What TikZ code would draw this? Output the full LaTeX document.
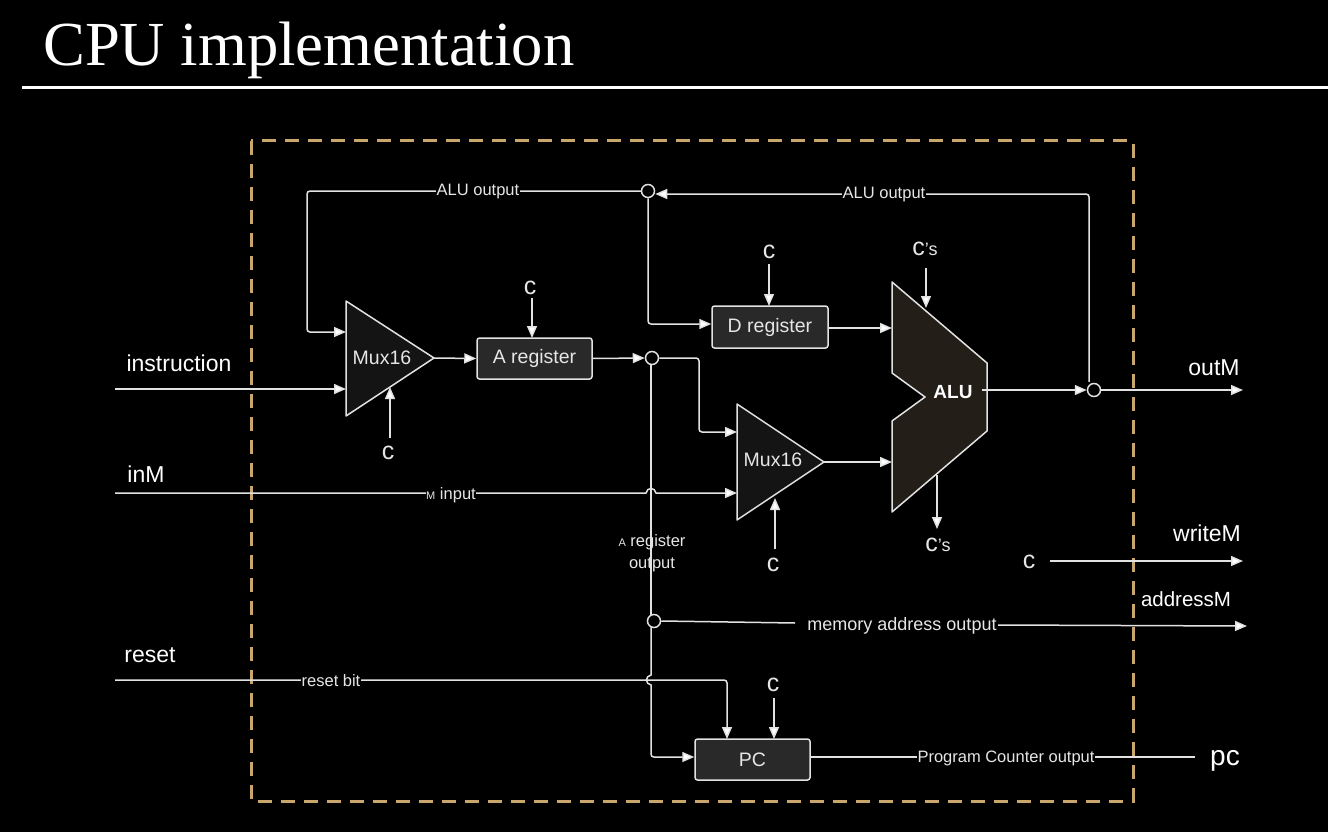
\documentclass[tikz,border=0pt]{standalone}
\usepackage{fontspec}
\setmainfont{Liberation Sans}
\newfontfamily\titlefont{Liberation Serif}
\usetikzlibrary{arrows.meta,calc}
\definecolor{wire}{HTML}{E2E2E2}
\definecolor{txt}{HTML}{E6E6E6}
\definecolor{tan}{HTML}{C9A66B}
\newcommand{\px}[1]{\fontsize{#1pt}{#1pt}\selectfont}
\tikzset{
  x=1pt,y=-1pt,
  wirestyle/.style={draw=wire,line width=1.5pt,rounded corners=3pt},
  arrowwire/.style={wirestyle,-{Triangle[length=12pt,width=10pt,fill=white]}},
  regbox/.style={draw=wire,line width=1.5pt,rounded corners=2.5pt,fill=black!84,minimum height=41pt,minimum width=115pt,inner sep=0pt,text=txt,font=\px{19.5}},
  muxshape/.style={draw=wire,line width=1.5pt,line join=round,fill=black!92},
  alushape/.style={draw=wire,line width=1.5pt,line join=round,fill={rgb,255:red,35;green,31;blue,24}},
  junction/.style={circle,draw=wire,line width=1.5pt,fill=black,minimum size=13pt,inner sep=0pt},
  inlabel/.style={fill=black,text=txt,font=\px{16.5},inner xsep=0.5pt,inner ysep=1pt},
  sidelabel/.style={text=white,font=\px{23},inner sep=0pt},
  ctrl/.style={text=txt,font=\px{25},inner sep=0pt},
  ctrls/.style={text=txt,inner sep=0pt},
  partlabel/.style={text=txt,font=\px{19.5},inner sep=0pt}
}
\begin{document}
\begin{tikzpicture}
\useasboundingbox[fill=black] (0,0) rectangle (1328,832);
% title
\node[anchor=base west,text=white,inner sep=0pt,font=\titlefont\px{62.7}] (title) at (43,65.5) {CPU implementation};
\coordinate (ruleL) at (22,88);
\coordinate (ruleR) at (1328,88);
\draw[white,line width=3pt] (ruleL) -- (ruleR);
% dashed frame
\draw[tan,line width=3pt,dash pattern=on 14pt off 9pt] (251,141) rectangle (1133,801);
% shapes
\draw[muxshape] (346,301) -- (434,358) -- (346,416) -- cycle;
\node[partlabel] (mux1) at (382,358) {Mux16};
\draw[muxshape] (737,404) -- (824,462) -- (737,520) -- cycle;
\node[partlabel] (mux2) at (773,460) {Mux16};
\draw[alushape] (892,282) -- (987,363) -- (987,431) -- (892,512) -- (892,421) -- (925,397) -- (892,373) -- cycle;
\node[text=white,font=\bfseries\px{19},inner sep=0pt] (alu) at (953,392) {ALU};
\node[regbox] (areg) at (534.5,358.5) {A register};
\node[regbox,minimum width=116pt,minimum height=42pt] (dreg) at (770,327) {D register};
\node[regbox] (pcbox) at (752.5,759.5) {PC};
% junctions
\node[junction] (j1) at (648,191) {};
\node[junction] (j2) at (652,358) {};
\node[junction] (j3) at (1094,390) {};
\node[junction] (j4) at (654,621) {};
% coordinates on shapes
\coordinate (m1a) at (346,332);
\coordinate (m1b) at (346,389);
\coordinate (m1c) at (390,387);
\coordinate (m1o) at (434,358);
\coordinate (m2a) at (737,432);
\coordinate (m2b) at (737,493);
\coordinate (m2c) at (775,498);
\coordinate (m2o) at (824,462);
\coordinate (alua) at (892,328);
\coordinate (alub) at (892,462);
\coordinate (aluc) at (926,308);
\coordinate (alud) at (937,475);
\coordinate (aluo) at (982,390);
% labels outside
\node[sidelabel] (instr) at (179,363) {instruction};
\node[sidelabel] (inm) at (146,474) {inM};
\node[sidelabel] (rst) at (150,655) {reset};
\node[sidelabel] (outm) at (1214,368) {outM};
\node[sidelabel] (wrm) at (1207,533) {writeM};
\node[sidelabel,font=\px{20.5}] (addrm) at (1186,599) {addressM};
\node[sidelabel,font=\px{28}] (pcl) at (1225,761) {pc};
% control labels
\node[ctrl] (c1) at (388,453) {c};
\node[ctrl] (c2) at (530,288) {c};
\node[ctrl] (c3) at (769,252) {c};
\node[ctrl] (c4) at (773,565) {c};
\node[ctrl] (c5) at (773,685) {c};
\node[ctrl] (c6) at (1029,562) {c};
\node[ctrls] (cs1) at (925,249) {{\px{25}c}{\px{18}'s}};
\node[ctrls] (cs2) at (938,545) {{\px{25}c}{\px{18}'s}};
% free ends
\coordinate (iI) at (115,389);
\coordinate (iM) at (115,493);
\coordinate (iR) at (115,680);
\coordinate (oM) at (1243,390);
\coordinate (oW) at (1243,561);
\coordinate (oA) at (1247,626);
\coordinate (oP) at (1195,757);
% connectors
\draw[arrowwire] (j1.west) -- (307,191) -- (307,332) -- (m1a);
\node[inlabel] (lab1) at (478,192) {ALU output};
\draw[arrowwire] (j3.north -| 1089,0) ++(0,-1) -- (1089,194) -- (j1.east |- 0,194) ;
\node[inlabel] (lab2) at (884,195) {ALU output};
\draw[arrowwire] (j1.south) -- (648,324) -- (dreg.west |- 0,324);
\draw[arrowwire] (iI) -- (m1b);
\draw[arrowwire,rounded corners=0pt] (iM) -- (646,493) .. controls (647,487) and (655,487) .. (656,493) -- (m2b);
\node[inlabel] (lab3) at (451,495) {{\px{11}M} input};
\draw[arrowwire] (m1o) -- (areg.west);
\draw[arrowwire] (areg.east) -- (j2.west);
\draw[arrowwire] (j2.east) -- (699,358) -- (699,432) -- (m2a);
\draw[arrowwire] (dreg.east |- alua) -- (alua);
\draw[arrowwire] (m2o) -- (alub);
\draw[arrowwire] (aluo) -- (j3.west);
\draw[arrowwire] (j3.east) -- (oM);
\draw[arrowwire] (532,298) -- (532,338);
\draw[arrowwire] (769,264) -- (769,306);
\draw[arrowwire] (390,438) -- (m1c);
\draw[arrowwire] (775,549) -- (m2c);
\draw[arrowwire] (774,698) -- (774,739);
\draw[arrowwire] (926,268) -- (aluc);
\draw[arrowwire] (alud) -- (937,529);
\draw[arrowwire] (1050,561) -- (oW);
% reset
\draw[arrowwire] (iR) -- (727,680) -- (727,739);
\node[inlabel] (lab6) at (331,681) {reset bit};
% A register output bus
\node[text=txt,font=\px{16.5},inner sep=0pt,align=center] (lab4) at (652,553) {{\px{11}A} register\\[5pt]output};
\draw[wirestyle] (j2.south -| 651,0) -- (651,615);
\draw[arrowwire,rounded corners=0pt] (651,627) -- (651,675) .. controls (645,676) and (645,684) .. (651,685) -- (651,754) .. controls (651,756) and (652,757) .. (654,757) -- (pcbox.west |- 0,757);
\draw[wirestyle] (j4.east) -- (795,623);
\node[text=txt,font=\px{18},inner sep=0pt] (lab5) at (902,626) {memory address output};
\draw[arrowwire] (998,625) -- (oA);
% PC out
\draw[wirestyle] (pcbox.east |- 0,757) -- (oP);
\node[inlabel] (lab7) at (1006,758) {Program Counter output};
\end{tikzpicture}
\end{document}
